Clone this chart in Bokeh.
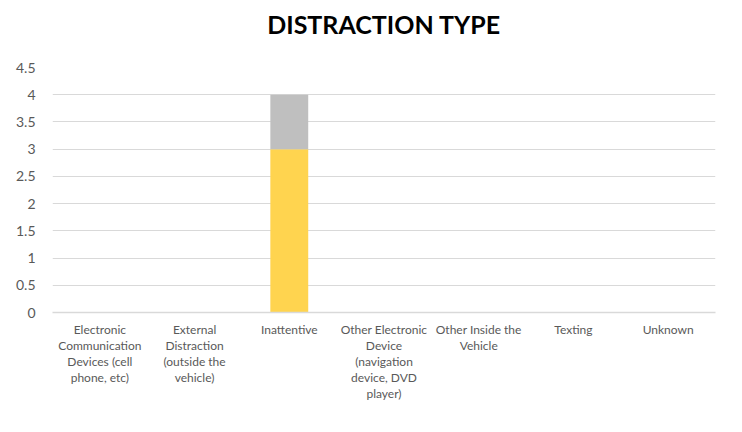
from bokeh.plotting import figure
from bokeh.models import FixedTicker, Legend, ColumnDataSource
from bokeh.embed import file_html
from bokeh.resources import INLINE

categories = [
    "Electronic\nCommunication\nDevices (cell\nphone, etc)",
    "External\nDistraction\n(outside the\nvehicle)",
    "Inattentive",
    "Other Electronic\nDevice\n(navigation\ndevice, DVD\nplayer)",
    "Other Inside the\nVehicle",
    "Texting",
    "Unknown",
]
serious_injury = [0, 0, 3, 0, 0, 0, 0]
fatal = [0, 0, 0, 0, 0, 0, 0]
other_injury = [0, 0, 1, 0, 0, 0, 0]
y_ticks = [0, 0.5, 1, 1.5, 2, 2.5, 3, 3.5, 4, 4.5]

series = ["serious", "fatal", "other"]
labels = ["SERIOUS INJURY", "FATAL", "OTHER INJURY"]
colors = ["#FFD44F", "#1F5FA8", "#BFBFBF"]

src = ColumnDataSource(dict(cat=categories, serious=serious_injury, fatal=fatal, other=other_injury))

FONT = "Lato"
p = figure(x_range=categories, y_range=(0, 4.5), frame_width=663, frame_height=245,
           output_backend="svg", toolbar_location=None,
           min_border_left=0, min_border_right=19, min_border_top=0, min_border_bottom=0)
p.outline_line_color = None
p.margin = (-22, 0, 0, 12)

r = p.vbar_stack(series, x="cat", width=0.4, color=colors, source=src, line_color=None)

p.title.text = "DISTRACTION TYPE"
p.title.align = "center"
p.title.text_font = FONT
p.title.text_font_size = "25px"
p.title.text_font_style = "bold"
p.title.text_color = "#000000"
p.title.standoff = 57

p.yaxis.ticker = FixedTicker(ticks=y_ticks)
p.yaxis.axis_line_color = None
p.yaxis.major_tick_line_color = None
p.yaxis.minor_tick_line_color = None
p.yaxis.major_label_text_font = FONT
p.yaxis.major_label_text_font_size = "14px"
p.yaxis.major_label_text_color = "#595959"
p.yaxis.major_label_standoff = 11

p.xaxis.axis_line_color = "#D9D9D9"
p.xaxis.axis_line_width = 1.5
p.xaxis.major_tick_line_color = None
p.xaxis.minor_tick_line_color = None
p.xaxis.major_label_text_font = FONT
p.xaxis.major_label_text_font_size = "12px"
p.xaxis.major_label_text_color = "#595959"
p.xaxis.major_label_text_line_height = 1.07
p.xaxis.major_label_standoff = 3

p.xgrid.grid_line_color = None
p.ygrid.grid_line_color = "#D9D9D9"
p.ygrid.grid_line_width = 1.2

legend = Legend(items=[(labels[i], [r[i]]) for i in range(3)],
                orientation="horizontal")
legend.border_line_color = None
legend.background_fill_alpha = 0
legend.label_text_font = FONT
legend.label_text_font_size = "11.5px"
legend.label_text_color = "#595959"
legend.glyph_width = 8
legend.glyph_height = 8
legend.spacing = 44
legend.label_standoff = 3
legend.padding = 0
legend.margin = 0
p.add_layout(legend, "below")

open("out.html", "w").write(file_html(p, INLINE))
